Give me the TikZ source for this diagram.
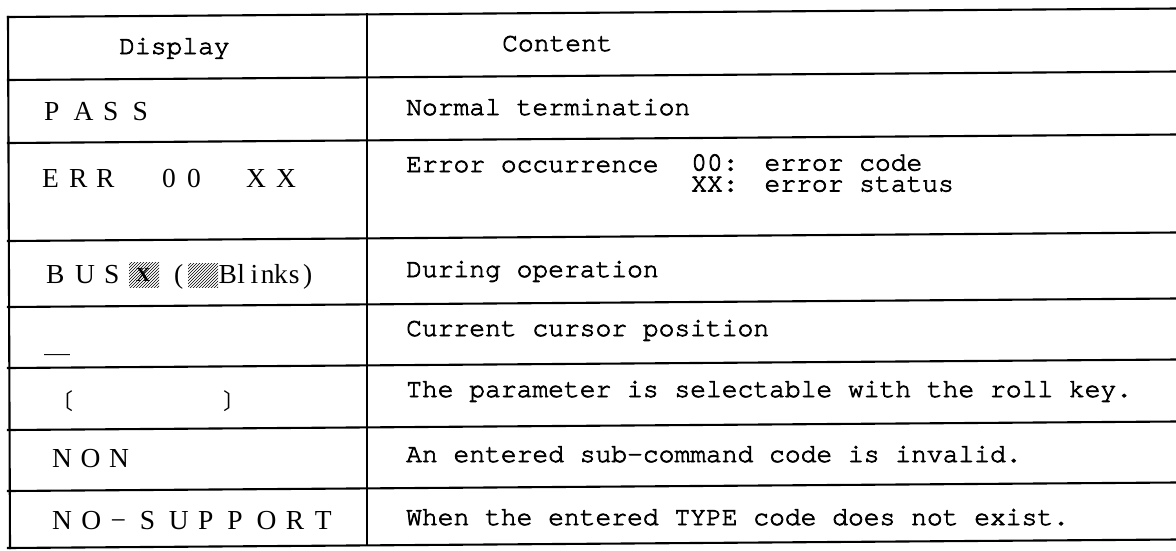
\documentclass[tikz,border=0pt]{standalone}
\usepackage{fontspec}
\usepackage{graphicx}
\usetikzlibrary{patterns}
\setmainfont{Liberation Serif}
\newfontfamily\monof{texgyrecursor-regular.otf}[FakeBold=2.6]
\newfontfamily\cjkf{Noto Sans CJK JP}
\newcommand\pitchw{20pt}
\newcommand\pitchsc{1}
\newcommand\spaced[3][l]{\renewcommand\pitchsc{#1}\renewcommand\pitchw{#2}\spacedloop#3\relax}
\def\spacedloop#1{\ifx#1\relax\else\makebox[\pitchw][\pitchsc]{#1}\expandafter\spacedloop\fi}
\tikzset{
  rule/.style={line width=2.1pt, line cap=rect},
  mfont/.style={font=\monof\fontsize{26.3}{21}\selectfont},
  mtext/.style={mfont, anchor=base west, inner sep=0pt, text height=14pt, text depth=3pt},
  mlines/.style={mfont, anchor=base west, inner sep=0pt, align=left},
  stext/.style={anchor=base west, inner sep=0pt, font=\fontsize{27.5}{27.5}\selectfont},
  hatchbox/.style={pattern=north east lines},
}
\begin{document}
\begin{tikzpicture}[x=1pt,y=-1pt]
\fill[white] (0,0) rectangle (1176,550);
\useasboundingbox (0,0) rectangle (1176,550);
% horizontal rules (slightly sloping as in the scan)
\foreach \yl in {17,80,143,241,307,368,430,491,548}
  \draw[rule] (8,\yl) -- (1176,{\yl-8.5});
% vertical rules
\draw[rule] (8,17) -- (10,548);
\draw[rule] (367,14.4) -- (367,545.4);
% header
\node[mtext] (hdisp) at (119,54) {Display};
\node[mtext] (hcont) at (502,51) {Content};
% row PASS
\node[stext] (pass) at (44,120) {\spaced{29.5pt}{PASS}};
\node[mtext] (cpass) at (406,115) {Normal termination};
% row ERR
\node[stext] (err1) at (42,187) {\spaced{27pt}{ERR}};
\node[stext] (err2) at (162,187) {\spaced{25pt}{00}};
\node[stext] (err3) at (246,187) {\spaced{30pt}{XX}};
\node[mtext] (cerr) at (406,172) {Error occurrence};
% base anchor of a two-line node is the baseline of its last line
\node[mlines] (cerrcodes) at (691,191.5) {00:\hspace{26pt}error code\\XX:\hspace{26pt}error status};
% row BUS
\node[stext] (bus) at (46,283) {\spaced{29pt}{BUS}};
\fill[hatchbox] (129,262) rectangle (159,287);
\node[inner sep=0pt, font=\bfseries\fontsize{20}{20}\selectfont] (busx) at (143,275) {X};
\node[stext] (lpar) at (174,283) {(};
\fill[hatchbox] (188,263) rectangle (218,287);
\node[stext] (blinks) at (221,283) {\spaced[c]{13.3pt}{Blinks)}};
\node[mtext] (cbus) at (406,277) {During operation};
% row cursor
\node[anchor=base west, inner sep=0pt, font=\cjkf\fontsize{26}{26}\selectfont] (cur) at (44,352) {＿};
\node[mtext] (ccur) at (406,336) {Current cursor position};
% row brackets
\node[inner sep=0pt, font=\cjkf\fontsize{22}{22}\selectfont] (lbr) at (62,401) {〔};
\node[inner sep=0pt, font=\cjkf\fontsize{22}{22}\selectfont] (rbr) at (234,401) {〕};
\node[mtext] (cbr) at (406,397) {The parameter is selectable with the roll key.};
% row NON
\node[stext] (non) at (52,467) {\spaced{28.5pt}{NON}};
\node[mtext] (cnon) at (406,462) {An entered sub-command code is invalid.};
% row NO-SUPPORT
\node[stext] (nosup) at (52,529) {\spaced{29.2pt}{NO−SUPPORT}};
\node[mtext] (cnos) at (406,525) {When the entered TYPE code does not exist.};
\end{tikzpicture}
\end{document}
